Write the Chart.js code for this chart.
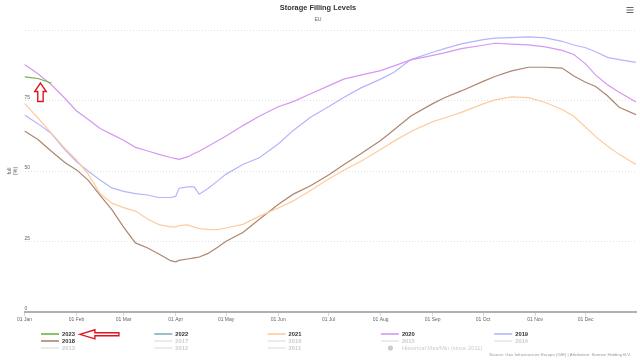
<!DOCTYPE html>
<html>
<head>
<meta charset="utf-8">
<title>Storage Filling Levels</title>
<script src="https://cdn.jsdelivr.net/npm/chart.js@4.4.1/dist/chart.umd.min.js"></script>
<style>
  html, body { margin: 0; padding: 0; background: #fff; }
  #chart { display: block; }
</style>
</head>
<body>
<canvas id="chart" width="640" height="360"></canvas>
<script>
// day of year (0 = 01 Jan) for the sampled points
const days = [0, 8, 16, 24, 31, 38, 45, 52, 59, 66, 73, 80, 87, 90, 92, 97, 101, 104, 109, 115,
  120, 130, 140, 151, 160, 170, 181, 190, 200, 212, 220, 230, 243, 250, 260, 273, 280, 290,
  300, 310, 320, 327, 334, 340, 347, 354, 364];

const monthStarts = [0, 31, 59, 90, 120, 151, 181, 212, 243, 273, 304, 334];
const monthLabels = ["01 Jan", "01 Feb", "01 Mar", "01 Apr", "01 May", "01 Jun",
  "01 Jul", "01 Aug", "01 Sep", "01 Oct", "01 Nov", "01 Dec"];

// 2023 only has data for the first days of January
const days2023 = [0, 8, 16];
const fill2023 = [83.4, 82.8, 81.2];

const fill2022 = [];

const fill2021 = [74.0, 68.8, 63.4, 58.1, 53.9, 48.8, 42.0, 38.6, 37.0, 35.8, 33.1, 31.0, 30.2,
  30.2, 30.6, 30.9, 30.1, 29.6, 29.3, 29.2, 29.8, 31.1, 34.0, 36.9, 39.4, 43.0, 47.2, 50.3,
  53.4, 57.6, 60.6, 64.0, 67.5, 68.8, 70.8, 73.8, 75.2, 76.3, 76.0, 74.3, 71.8, 69.4, 65.5,
  62.2, 58.9, 55.9, 52.3];

const fill2020 = [87.8, 84.5, 80.6, 75.8, 71.3, 68.3, 65.1, 63.0, 60.9, 58.4, 57.2, 55.9, 54.8,
  54.4, 54.1, 55.0, 56.2, 57.0, 58.7, 60.7, 62.4, 66.1, 69.5, 72.8, 74.6, 77.3, 80.2, 82.6,
  84.0, 85.6, 87.3, 89.4, 91.0, 91.9, 93.4, 94.6, 95.3, 95.0, 94.7, 94.0, 92.8, 91.3, 88.0,
  84.0, 80.6, 77.9, 74.5];

const fill2019 = [69.9, 66.8, 63.3, 57.6, 53.3, 49.9, 46.8, 44.0, 42.8, 42.0, 41.5, 40.6, 40.6,
  41.0, 43.9, 44.4, 44.4, 41.8, 43.7, 46.5, 48.9, 52.3, 54.8, 59.6, 64.4, 69.0, 72.8, 76.1,
  79.4, 82.6, 85.0, 89.5, 92.1, 93.4, 95.1, 96.6, 97.1, 97.3, 97.6, 97.2, 96.0, 94.7, 93.7,
  92.3, 90.3, 89.5, 88.5];

const fill2018 = [64.2, 61.2, 57.0, 53.0, 50.4, 46.7, 41.4, 36.3, 30.1, 24.5, 22.8, 20.6, 18.2,
  17.8, 18.3, 18.8, 19.2, 19.5, 20.7, 23.0, 25.1, 28.2, 33.0, 38.1, 41.8, 44.7, 48.6, 52.2,
  56.0, 60.8, 64.6, 69.5, 73.9, 76.0, 78.4, 81.8, 83.5, 85.5, 86.8, 86.8, 86.5, 83.7, 81.5,
  80.0, 76.7, 72.6, 70.0];

const hiddenYears = ["2017", "2016", "2015", "2014", "2013", "2012", "2011"];

const FONT = '"Liberation Sans", Arial, sans-serif';

function points(xs, ys) {
  return ys.map((v, i) => ({ x: xs[i], y: v }));
}

function line(label, color, xs, ys) {
  return {
    label: label,
    data: points(xs, ys),
    borderColor: color,
    backgroundColor: color,
    borderWidth: 1.2,
    pointRadius: 0,
    tension: 0,
    fill: false
  };
}

const datasets = [
  line("2023", "#6bb445", days2023, fill2023),
  line("2022", "#7fb0bd", days, fill2022),
  line("2021", "#ffcb9c", days, fill2021),
  line("2020", "#d597f2", days, fill2020),
  line("2019", "#b4b4ff", days, fill2019),
  line("2018", "#ad8570", days, fill2018)
];
hiddenYears.forEach(y => {
  const ds = line(y, "#cccccc", days, []);
  ds.hidden = true;
  datasets.push(ds);
});
datasets.push({
  label: "Historical Max/Min (since 2011)",
  data: [],
  hidden: true,
  marker: true,
  borderColor: "#cccccc",
  backgroundColor: "#cccccc",
  pointRadius: 0
});

// legend laid out in 5 columns like the original
const gridLegend = {
  id: "gridLegend",
  afterDraw(chart) {
    const ctx = chart.ctx;
    ctx.save();
    ctx.font = "bold 5.8px " + FONT;
    ctx.textBaseline = "middle";
    ctx.textAlign = "left";
    chart.data.datasets.forEach((ds, i) => {
      const col = i % 5, row = Math.floor(i / 5);
      const x = 41 + col * 113.3;
      const y = 334 + row * 7;
      if (ds.marker) {
        ctx.fillStyle = "#cccccc";
        ctx.beginPath();
        ctx.arc(x + 9.5, y, 2.6, 0, Math.PI * 2);
        ctx.fill();
      } else {
        ctx.strokeStyle = ds.hidden ? "#e6e6e6" : ds.borderColor;
        ctx.lineWidth = 1.6;
        ctx.beginPath();
        ctx.moveTo(x, y);
        ctx.lineTo(x + 18, y);
        ctx.stroke();
      }
      ctx.fillStyle = ds.hidden ? "#cccccc" : "#333333";
      ctx.font = (ds.marker ? "" : "bold ") + "5.8px " + FONT;
      ctx.fillText(ds.label, x + 21, y);
    });

    // source line
    ctx.font = "4.3px " + FONT;
    ctx.fillStyle = "#999999";
    ctx.textAlign = "right";
    ctx.fillText("Source: Gas Infrastructure Europe (GIE) | Attribution: Sonnen Holding B.V.", 631, 354.5);

    // menu icon
    ctx.strokeStyle = "#666666";
    ctx.lineWidth = 1;
    [7.5, 10, 12.5].forEach(y => {
      ctx.beginPath();
      ctx.moveTo(626.5, y);
      ctx.lineTo(633.5, y);
      ctx.stroke();
    });

    // red arrow next to the 2023 legend entry
    ctx.font = "bold 5.8px " + FONT;
    const tx = 41 + 21 + ctx.measureText(chart.data.datasets[0].label).width + 5;
    const ty = 334.3;
    ctx.strokeStyle = "#e0141e";
    ctx.fillStyle = "#ffffff";
    ctx.lineWidth = 1.4;
    ctx.beginPath();
    ctx.moveTo(tx, ty);
    ctx.lineTo(tx + 15, ty - 4.5);
    ctx.lineTo(tx + 15, ty - 1.5);
    ctx.lineTo(tx + 39, ty - 1.5);
    ctx.lineTo(tx + 39, ty + 1.5);
    ctx.lineTo(tx + 15, ty + 1.5);
    ctx.lineTo(tx + 15, ty + 4.5);
    ctx.closePath();
    ctx.fill();
    ctx.stroke();
    ctx.restore();
  },
  afterDatasetsDraw(chart) {
    // red arrow pointing up at the 2023 line
    const ctx = chart.ctx;
    const px = chart.scales.x.getPixelForValue(9.5);
    const py = chart.scales.y.getPixelForValue(81.2);
    ctx.save();
    ctx.strokeStyle = "#e0141e";
    ctx.fillStyle = "#ffffff";
    ctx.lineWidth = 1.4;
    ctx.beginPath();
    ctx.moveTo(px, py);
    ctx.lineTo(px + 5.8, py + 8.5);
    ctx.lineTo(px + 2.7, py + 8.5);
    ctx.lineTo(px + 2.7, py + 18.5);
    ctx.lineTo(px - 2.7, py + 18.5);
    ctx.lineTo(px - 2.7, py + 8.5);
    ctx.lineTo(px - 5.8, py + 8.5);
    ctx.closePath();
    ctx.fill();
    ctx.stroke();
    ctx.restore();
  }
};

new Chart(document.getElementById("chart"), {
  type: "line",
  data: { datasets: datasets },
  options: {
    responsive: false,
    animation: false,
    devicePixelRatio: 1,
    layout: { padding: { left: 0, right: 4, top: 0, bottom: 35 } },
    plugins: {
      legend: { display: false },
      tooltip: { enabled: false },
      title: {
        display: true,
        text: "Storage Filling Levels",
        color: "#333333",
        font: { family: FONT, size: 7.4, weight: "bold", lineHeight: 1.2 },
        padding: { top: 4, bottom: 0 }
      },
      subtitle: {
        display: true,
        text: "EU",
        color: "#666666",
        font: { family: FONT, size: 5.2, lineHeight: 1.2 },
        padding: { top: 3.3, bottom: 7.6 }
      }
    },
    scales: {
      x: {
        type: "linear",
        min: 0,
        max: 364,
        afterBuildTicks(scale) {
          scale.ticks = monthStarts.map(v => ({ value: v }));
        },
        afterFit(scale) { scale.height = 13; },
        ticks: {
          autoSkip: false,
          maxRotation: 0,
          padding: 1,
          color: "#666666",
          font: { family: FONT, size: 5 },
          callback: (v) => monthLabels[monthStarts.indexOf(v)]
        },
        grid: { drawOnChartArea: false, drawTicks: true, tickLength: 4, tickColor: "#d0d8e8" },
        border: { display: true, color: "#b0b0b0", width: 2 }
      },
      y: {
        min: 0,
        max: 100,
        afterFit(scale) { scale.width = 24.5; },
        ticks: {
          stepSize: 25,
          mirror: true,
          padding: 0,
          labelOffset: -3,
          color: "#666666",
          font: { family: FONT, size: 5 },
          callback: (v) => (v === 100 ? "" : v)
        },
        grid: { color: "#e3e3e3", drawTicks: false, lineWidth: 1 },
        border: { display: false, dash: [1, 2] },
        title: {
          display: true,
          text: ["full", "(%)"],
          color: "#666666",
          font: { family: FONT, size: 5.5, lineHeight: 1.2 },
          padding: { top: 6, bottom: 0 }
        }
      }
    }
  },
  plugins: [gridLegend]
});
</script>
</body>
</html>
